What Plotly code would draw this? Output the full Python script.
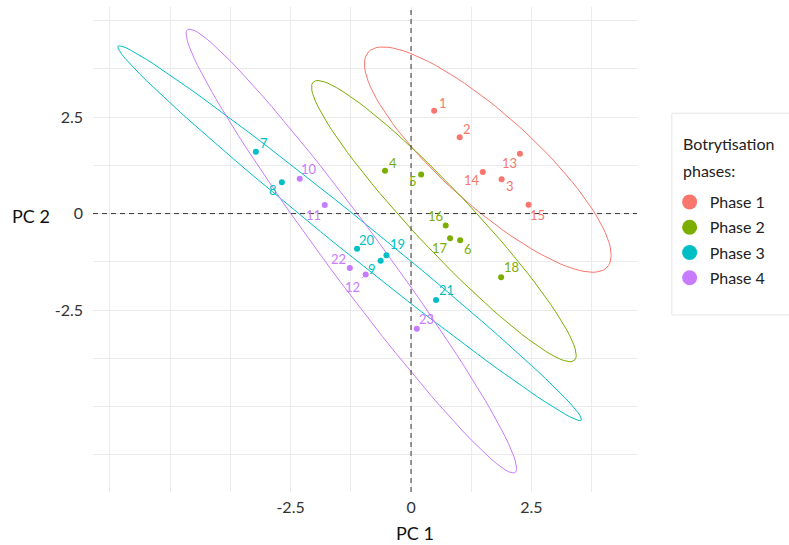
import numpy as np
import plotly.graph_objects as go

# ---------------- data ----------------
sample_labels = ["1", "2", "3", "4", "5", "6", "7", "8", "9", "10", "11", "12",
                 "13", "14", "15", "16", "17", "18", "19", "20", "21", "22", "23"]
pc1 = [0.48, 1.01, 1.88, -0.54, 0.21, 1.02, -3.22, -2.68, -0.63, -2.31, -1.79, -0.94,
       2.26, 1.49, 2.44, 0.72, 0.81, 1.87, -0.51, -1.12, 0.52, -1.27, 0.12]
pc2 = [2.66, 1.98, 0.89, 1.11, 1.01, -0.69, 1.60, 0.81, -1.22, 0.90, 0.22, -1.58,
       1.55, 1.08, 0.23, -0.31, -0.64, -1.65, -1.08, -0.91, -2.24, -1.41, -2.98]
phase = ["Phase 1", "Phase 1", "Phase 1", "Phase 2", "Phase 2", "Phase 2",
         "Phase 3", "Phase 3", "Phase 3", "Phase 4", "Phase 4", "Phase 4",
         "Phase 1", "Phase 1", "Phase 1", "Phase 2", "Phase 2", "Phase 2",
         "Phase 3", "Phase 3", "Phase 3", "Phase 4", "Phase 4"]
phase_names = ["Phase 1", "Phase 2", "Phase 3", "Phase 4"]
legend_title_lines = ["Botrytisation", "phases:"]
x_tick_labels = ["-2.5", "0", "2.5"]
y_tick_labels = ["-2.5", "0", "2.5"]

# ---------------- styles ----------------
colors = {"Phase 1": "#F8766D", "Phase 2": "#7CAE00", "Phase 3": "#00BFC4", "Phase 4": "#C77CFF"}
# label offsets (px, right / up) for the repelled text labels
label_shift = {
    "1": (9, 8), "2": (7, 8), "3": (8, -7), "4": (8, 8), "5": (-8, -6), "6": (8, -9),
    "7": (8, 9), "8": (-9, -8), "9": (-9, -8), "10": (9, 10), "11": (-11, -10),
    "12": (-13, -12), "13": (-10, -9), "14": (-11, -8), "15": (9, -10), "16": (-10, 10),
    "17": (-10, -10), "18": (10, 10), "19": (11, 11), "20": (10, 9), "21": (10, 10),
    "22": (-11, 9), "23": (10, 10),
}
FONT = "Lato, 'Open Sans', sans-serif"

pc1_arr = np.array(pc1)
pc2_arr = np.array(pc2)
phase_arr = np.array(phase)


def ellipse_points(X, level=0.95, segments=100):
    # ggplot2 stat_ellipse(type = "norm")
    n = X.shape[0]
    center = X.mean(axis=0)
    shape = np.cov(X.T, ddof=1)
    dfd = n - 1
    qf = dfd / 2.0 * ((1 - level) ** (-2.0 / dfd) - 1)  # F(2, dfd) quantile
    radius = np.sqrt(2 * qf)
    R = np.linalg.cholesky(shape).T
    ang = np.linspace(0, 2 * np.pi, segments + 1)
    circ = np.column_stack([np.cos(ang), np.sin(ang)])
    return center + radius * circ @ R


fig = go.Figure()

for ph in phase_names:
    m = phase_arr == ph
    X = np.column_stack([pc1_arr[m], pc2_arr[m]])
    E = ellipse_points(X)
    fig.add_trace(go.Scatter(x=E[:, 0], y=E[:, 1], mode="lines",
                             line=dict(color=colors[ph], width=1),
                             showlegend=False, hoverinfo="skip"))

for ph in phase_names:
    m = phase_arr == ph
    fig.add_trace(go.Scatter(x=pc1_arr[m], y=pc2_arr[m], mode="markers",
                             marker=dict(color=colors[ph], size=6),
                             showlegend=False, name=ph))
    fig.add_trace(go.Scatter(x=[None], y=[None], mode="markers",
                             marker=dict(color=colors[ph], size=15),
                             name=ph, showlegend=True, legendgroup=ph))

annotations = []
for lab, xv, yv, ph in zip(sample_labels, pc1, pc2, phase):
    dx, dy = label_shift[lab]
    if lab == "12":
        annotations.append(dict(x=xv, y=yv, xref="x", yref="y", text=lab,
                                showarrow=True, arrowhead=0, arrowwidth=0.8,
                                arrowcolor=colors[ph], ax=dx, ay=-dy, standoff=1,
                                font=dict(family=FONT, size=13, color=colors[ph])))
    else:
        annotations.append(dict(x=xv, y=yv, xref="x", yref="y", text=lab,
                                showarrow=False, xshift=dx, yshift=dy,
                                font=dict(family=FONT, size=13, color=colors[ph])))

annotations.append(dict(x=0.592, y=-0.085, xref="paper", yref="paper", text="PC 1",
                        showarrow=False, xanchor="center", yanchor="middle",
                        font=dict(family=FONT, size=18, color="#111111")))
annotations.append(dict(x=-0.114, y=0.569, xref="paper", yref="paper", text="PC 2",
                        showarrow=False, xanchor="center", yanchor="middle",
                        font=dict(family=FONT, size=18, color="#111111")))
# legend title (two lines, wide line spacing as in the reference)
for line_text, py in zip(legend_title_lines, [0.718, 0.662]):
    annotations.append(dict(x=1.0805, y=py, xref="paper", yref="paper", text=line_text,
                            showarrow=False, xanchor="left", yanchor="middle",
                            font=dict(family=FONT, size=16, color="#222222")))

grid_x = [-6.25, -5, -3.75, -2.5, -1.25, 0, 1.25, 2.5, 3.75]
grid_y = [-6.25, -5, -3.75, -2.5, -1.25, 0, 1.25, 2.5, 3.75, 5]
xt = {-2.5: x_tick_labels[0], 0: x_tick_labels[1], 2.5: x_tick_labels[2]}
yt = {-2.5: y_tick_labels[0], 0: y_tick_labels[1], 2.5: y_tick_labels[2]}

shapes = [
    dict(type="line", xref="x", yref="paper", x0=0, x1=0, y0=0, y1=1,
         line=dict(color="#333333", width=1, dash="5px,4px")),
    dict(type="line", xref="paper", yref="y", x0=0, x1=1, y0=0, y1=0,
         line=dict(color="#333333", width=1, dash="5px,4px")),
    dict(type="rect", xref="paper", yref="paper", x0=1.064, x1=1.35, y0=0.365, y1=0.781,
         line=dict(color="#E6E6E6", width=1), fillcolor="rgba(0,0,0,0)", layer="below"),
]

fig.update_layout(
    width=789, height=545,
    margin=dict(l=93, r=152, t=7, b=53),
    plot_bgcolor="white", paper_bgcolor="white",
    font=dict(family=FONT, size=16, color="#333333"),
    xaxis=dict(range=[-6.60, 4.69], tickvals=grid_x,
               ticktext=[xt.get(v, "") for v in grid_x],
               showgrid=True, gridcolor="#EBEBEB", gridwidth=1, zeroline=False,
               showline=False, ticks="", ticklabelstandoff=4,
               tickfont=dict(size=16, color="#333333")),
    yaxis=dict(range=[-7.21, 5.35], tickvals=grid_y,
               ticktext=[yt.get(v, "") for v in grid_y],
               showgrid=True, gridcolor="#EBEBEB", gridwidth=1, zeroline=False,
               showline=False, ticks="", ticklabelstandoff=9,
               tickfont=dict(size=16, color="#333333")),
    legend=dict(x=1.06, y=0.633, xanchor="left", yanchor="top",
                font=dict(size=16, color="#222222"), bgcolor="rgba(0,0,0,0)",
                borderwidth=0, itemsizing="trace", tracegroupgap=1.5),
    annotations=annotations,
    shapes=shapes,
)

fig.write_html("out.html", config={"displayModeBar": False},
               post_script="document.body.style.margin='0px';")
